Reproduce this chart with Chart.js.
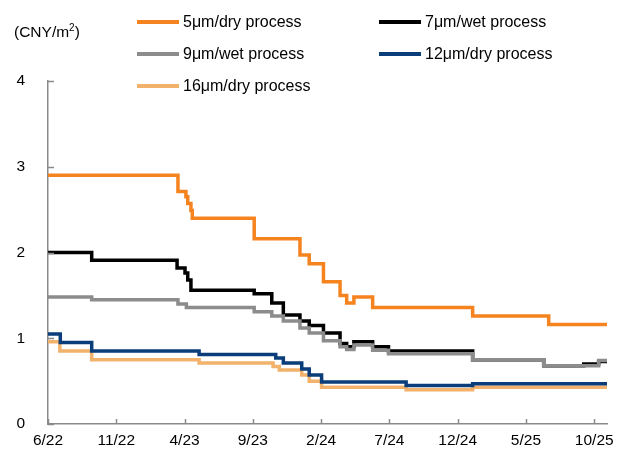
<!DOCTYPE html>
<html>
<head>
<meta charset="utf-8">
<script src="https://cdn.jsdelivr.net/npm/chart.js@4.4.1/dist/chart.umd.min.js"></script>
<style>
  html, body { margin: 0; padding: 0; background: #fff; }
  #wrap { position: relative; width: 627px; height: 457px; font-family: "Liberation Sans", Arial, sans-serif; }
  #chart { position: absolute; left: 0; top: 0; }
  .unit { position: absolute; left: 14px; top: 23px; font-size: 15.5px; color: #000; line-height: 18px; }
  .unit sup { font-size: 10px; vertical-align: 6px; line-height: 0; }
  .lg { position: absolute; display: flex; align-items: center; font-size: 16px; color: #000; white-space: nowrap; }
  .lg .sw { width: 42px; height: 4px; margin-right: 4px; }
</style>
</head>
<body>
<div id="wrap">
  <canvas id="chart" width="627" height="457"></canvas>
  <div class="unit">(CNY/m<sup>2</sup>)</div>
</div>
<script>
// Separator prices by product type, CNY per square metre (step changes)
const DATES_5UM_DRY = ['2022-06-01','2023-03-17','2023-04-04','2023-04-08','2023-04-15','2023-04-18','2023-09-04','2023-12-15','2024-01-05','2024-02-06','2024-03-13','2024-03-28','2024-04-13','2024-05-25','2025-01-04','2025-06-21','2025-10-30'];
const VALUES_5UM_DRY = [2.90, 2.71, 2.65, 2.57, 2.49, 2.40, 2.16, 1.97, 1.87, 1.66, 1.50, 1.41, 1.48, 1.36, 1.26, 1.16, 1.16];

const DATES_7UM_WET = ['2022-06-01','2022-09-07','2023-03-15','2023-04-02','2023-04-08','2023-04-15','2023-09-04','2023-10-13','2023-11-08','2023-12-15','2024-01-05','2024-02-06','2024-03-13','2024-03-28','2024-04-13','2024-05-25','2024-06-29','2025-01-04','2025-06-10','2025-09-08','2025-10-11','2025-10-30'];
const VALUES_7UM_WET = [2.00, 1.91, 1.82, 1.76, 1.68, 1.56, 1.52, 1.41, 1.27, 1.20, 1.15, 1.06, 0.94, 0.90, 0.96, 0.90, 0.85, 0.75, 0.68, 0.70, 0.73, 0.73];

const DATES_9UM_WET = ['2022-06-01','2022-09-07','2023-03-17','2023-04-05','2023-09-04','2023-10-13','2023-11-08','2023-12-15','2024-01-05','2024-02-06','2024-03-13','2024-03-28','2024-04-13','2024-05-25','2024-06-29','2025-01-04','2025-06-10','2025-10-11','2025-10-30'];
const VALUES_9UM_WET = [1.48, 1.45, 1.40, 1.36, 1.31, 1.26, 1.20, 1.12, 1.06, 0.97, 0.90, 0.87, 0.92, 0.86, 0.82, 0.75, 0.68, 0.74, 0.74];

const DATES_12UM_DRY = ['2022-06-01','2022-06-28','2022-09-07','2023-05-03','2023-10-22','2023-11-08','2023-12-19','2024-01-05','2024-02-02','2024-08-08','2025-01-04','2025-10-30'];
const VALUES_12UM_DRY = [1.05, 0.95, 0.85, 0.81, 0.77, 0.71, 0.64, 0.57, 0.49, 0.45, 0.47, 0.47];

const DATES_16UM_DRY = ['2022-06-01','2022-06-27','2022-09-07','2023-05-03','2023-10-16','2023-10-30','2023-12-19','2024-01-05','2024-02-02','2024-08-08','2025-01-04','2025-10-30'];
const VALUES_16UM_DRY = [0.96, 0.85, 0.75, 0.71, 0.67, 0.63, 0.57, 0.50, 0.43, 0.40, 0.43, 0.43];

const SERIES_NAMES = ['5μm/dry process', '7μm/wet process', '9μm/wet process', '12μm/dry process', '16μm/dry process'];
const X_TICK_LABELS = ['6/22', '11/22', '4/23', '9/23', '2/24', '7/24', '12/24', '5/25', '10/25'];
const Y_TICKS = [0, 1, 2, 3, 4];
const START_DATE = '2022-06-01';
const END_DATE = '2025-10-30';

// Months elapsed since the first observation (fractional, by day of month)
function monthOffset(iso) {
  const [y, m, d] = iso.split('-').map(Number);
  const [y0, m0] = START_DATE.split('-').map(Number);
  const dim = new Date(y, m, 0).getDate();
  return (y - y0) * 12 + (m - m0) + (d - 1) / dim;
}
function toPoints(dates, values) {
  return dates.map((d, i) => ({ x: monthOffset(d), y: values[i] }));
}

const COLORS = ['#F5831F', '#000000', '#8C8C8C', '#0A3D7A', '#F2B26C'];
const DRAW_ORDER = [0, 2, 1, 3, 4];
const SERIES = [
  [DATES_5UM_DRY, VALUES_5UM_DRY],
  [DATES_7UM_WET, VALUES_7UM_WET],
  [DATES_9UM_WET, VALUES_9UM_WET],
  [DATES_12UM_DRY, VALUES_12UM_DRY],
  [DATES_16UM_DRY, VALUES_16UM_DRY]
];

const datasets = SERIES.map(([d, v], i) => ({
  label: SERIES_NAMES[i],
  data: toPoints(d, v),
  borderColor: COLORS[i],
  backgroundColor: COLORS[i],
  borderWidth: 3.5,
  pointRadius: 0,
  stepped: true,
  order: DRAW_ORDER[i]
}));

const AXIS_COLOR = '#8A8A8A';
const FONT = { family: '"Liberation Sans", Arial, sans-serif', size: 15.5 };

// Short tick marks pointing into the plot area
const innerTicks = {
  id: 'innerTicks',
  afterDraw(chart) {
    const { ctx, scales: { x, y } } = chart;
    ctx.save();
    ctx.strokeStyle = AXIS_COLOR;
    ctx.lineWidth = 1.5;
    ctx.beginPath();
    x.ticks.forEach((t, i) => {
      const px = Math.round(x.getPixelForTick(i)) + 0.5;
      ctx.moveTo(px, x.top);
      ctx.lineTo(px, x.top - 5);
    });
    y.ticks.forEach((t, i) => {
      const py = Math.round(y.getPixelForTick(i)) + 0.5;
      ctx.moveTo(y.right, py);
      ctx.lineTo(y.right + 6, py);
    });
    ctx.stroke();
    ctx.restore();
  }
};

const chart = new Chart(document.getElementById('chart'), {
  type: 'line',
  data: { datasets },
  plugins: [innerTicks],
  options: {
    responsive: false,
    animation: false,
    events: [],
    layout: { padding: { left: 0, right: 20, top: 81, bottom: 0 } },
    plugins: { legend: { display: false }, tooltip: { enabled: false } },
    scales: {
      x: {
        type: 'linear',
        min: 0,
        max: monthOffset(END_DATE),
        afterBuildTicks: s => { s.ticks = X_TICK_LABELS.map((_, i) => ({ value: i * 5 })); },
        afterFit: s => { s.height = 33; },
        grid: { display: false, drawTicks: false },
        border: { display: true, color: AXIS_COLOR, width: 1.5 },
        ticks: {
          autoSkip: false, maxRotation: 0, padding: 7, color: '#000', font: FONT,
          callback: v => X_TICK_LABELS[Math.round(v / 5)]
        }
      },
      y: {
        min: 0,
        max: 4,
        afterBuildTicks: s => { s.ticks = Y_TICKS.map(v => ({ value: v })); },
        afterFit: s => { s.width = 48; },
        grid: { display: false, drawTicks: false },
        border: { display: true, color: AXIS_COLOR, width: 1.5 },
        ticks: { padding: 23, color: '#000', font: FONT, callback: v => String(v) }
      }
    }
  }
});

// Legend laid out in two columns above the plot
const LEGEND_POS = [[137, 13], [379, 13], [137, 45], [379, 45], [137, 77]];
const wrap = document.getElementById('wrap');
chart.data.datasets.forEach((ds, i) => {
  const item = document.createElement('div');
  item.className = 'lg';
  item.style.left = LEGEND_POS[i][0] + 'px';
  item.style.top = LEGEND_POS[i][1] + 'px';
  const sw = document.createElement('span');
  sw.className = 'sw';
  sw.style.background = ds.borderColor;
  const tx = document.createElement('span');
  tx.textContent = ds.label;
  item.appendChild(sw);
  item.appendChild(tx);
  wrap.appendChild(item);
});
</script>
</body>
</html>
